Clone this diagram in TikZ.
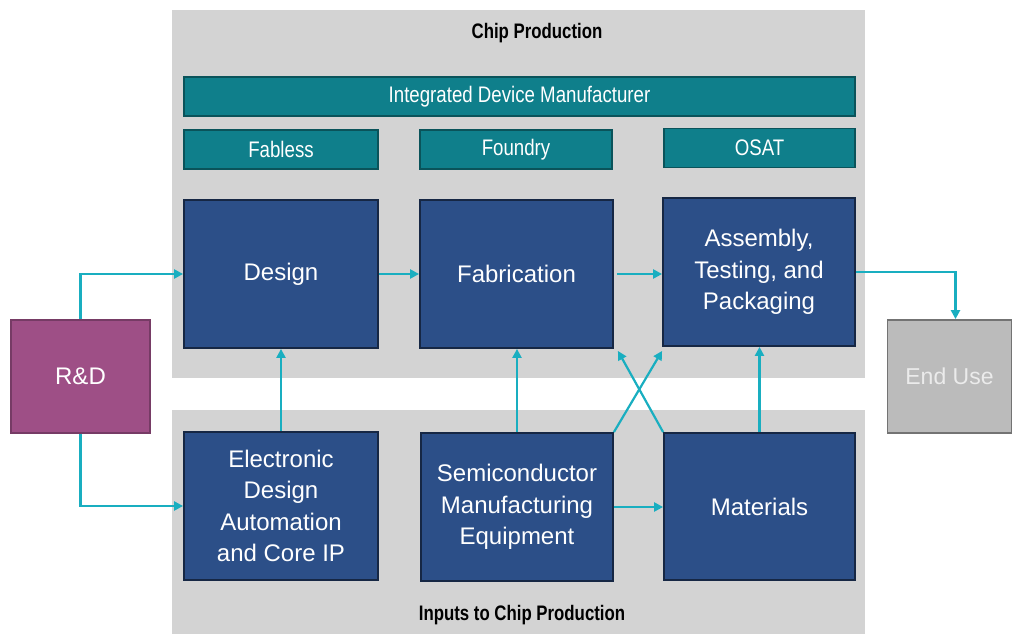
\documentclass[tikz,border=0pt]{standalone}
\usepackage{fontspec}
\setmainfont{Liberation Sans}
\newfontfamily\barfont{Liberation Sans}[FakeStretch=0.83]
\newfontfamily\headfont{Liberation Sans}[FakeStretch=0.8]
\usetikzlibrary{arrows.meta, positioning}
\definecolor{panelgray}{HTML}{D3D3D3}
\definecolor{stageblue}{HTML}{2C4F88}
\definecolor{roleteal}{HTML}{0F7F8B}
\definecolor{flowcyan}{HTML}{19AEC0}
\definecolor{rdpurple}{HTML}{9E4F86}
\definecolor{usegray}{HTML}{BBBBBB}

\begin{document}
\begin{tikzpicture}[
    x=1pt, y=-1pt,
    >=Triangle,
    panel/.style={fill=panelgray, draw=none, inner sep=0pt},
    stagebox/.style={
        draw=stageblue!50!black, fill=stageblue, line width=1.8pt,
        minimum width=193pt, minimum height=148pt, align=center,
        text=white, font=\fontsize{24}{31.5}\selectfont,
    },
    rolebar/.style={
        draw=roleteal!65!black, fill=roleteal, line width=1.4pt,
        minimum width=193pt, minimum height=39pt, inner sep=0pt,
        text=white, font=\barfont\fontsize{22.5}{27}\selectfont,
    },
    headlbl/.style={font=\headfont\bfseries\fontsize{21}{25}\selectfont, text=black},
    arr/.style={-{Triangle[length=9pt,width=9pt]}, line width=2.2pt, color=flowcyan},
]
\useasboundingbox (0,0) rectangle (1012,634);

% Gray panels for the two layers
\node[panel, minimum width=693pt, minimum height=368pt] (prodpanel) at (518.5,194) {};
\node[panel, minimum width=693pt, minimum height=224pt] (inpanel) at (518.5,522) {};
\node[headlbl] (prodhead) at (537,33) {Chip Production};
\node[headlbl] (inhead) at (522,615) {Inputs to Chip Production};

% Business models
\node[rolebar, minimum width=671pt] (idm) at (519.5,96.5) {Integrated Device Manufacturer};
\node[rolebar, minimum width=194pt] (fabless) at (281,149.5) {Fabless};
\node[rolebar, minimum width=192pt] (foundry) at (516,149.5) {Foundry};
\node[rolebar, minimum width=191pt] (osat) at (759.5,148) {OSAT};

% Production stages
\node[stagebox, minimum width=194pt] (design) at (281,274) {Design};
\node[stagebox] (fab) at (516.5,274) {Fabrication};
\node[stagebox, minimum width=192pt] (atp) at (759,272) {Assembly,\\Testing, and\\Packaging};

% Inputs
\node[stagebox, minimum width=194pt] (eda) at (281,506) {Electronic\\Design\\Automation\\and Core IP};
\node[stagebox, minimum width=192pt] (sme) at (517,507) {Semiconductor\\Manufacturing\\Equipment};
\node[stagebox, minimum width=191pt, minimum height=147pt] (mat) at (759.5,506.5) {Materials};

% Outside boxes
\node[draw=rdpurple!75!black, fill=rdpurple, line width=1.8pt, text=white,
      minimum width=139pt, minimum height=113pt, font=\fontsize{24}{32}\selectfont]
      (rnd) at (80.5,376.5) {R\&D};
\node[draw=black!55, fill=usegray, line width=1.8pt, text=white!92!black,
      minimum width=124pt, minimum height=113pt, font=\fontsize{23}{30}\selectfont]
      (enduse) at (949.5,376.5) {End Use};

% Flows
\draw[arr] (rnd.north) |- (design.west);
\draw[arr] (rnd.south) |- (eda.west);
\draw[arr] (design.east) -- (fab.west);
\draw[arr] ([xshift=3pt]fab.east) -- (fab.east -| atp.west);
\draw[arr] (atp.east) -| ([xshift=6pt]enduse.north);
\draw[arr] (eda.north) -- (design.south);
\draw[arr] (sme.north) -- (sme.north |- fab.south);
\draw[arr] (mat.north) -- (mat.north |- atp.south);
\draw[arr] (sme.north east) -- ([yshift=-4pt]atp.south west);
\draw[arr] (mat.north west) -- ([xshift=4pt,yshift=-2pt]fab.south east);
\draw[arr] (sme.east) -- (sme.east -| mat.west);

\end{tikzpicture}
\end{document}
